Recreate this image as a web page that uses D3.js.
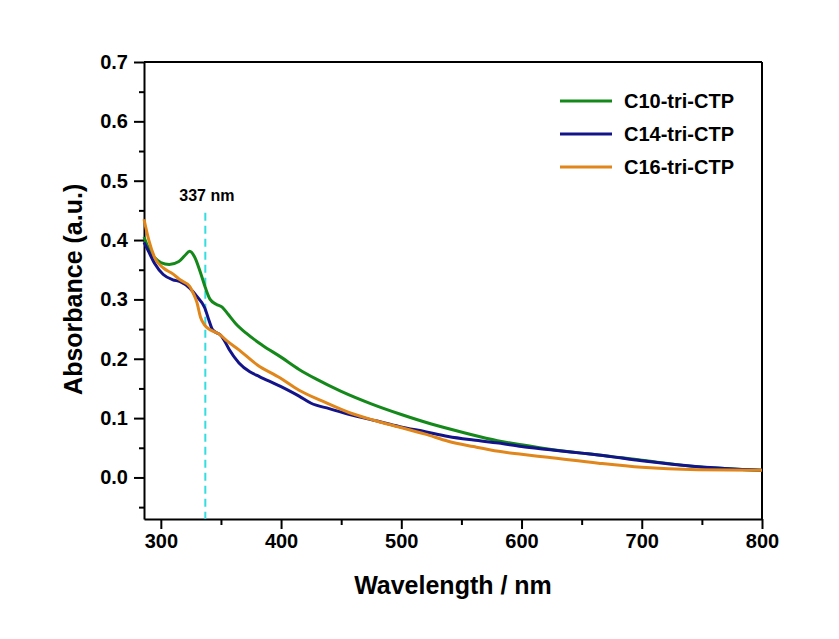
<!DOCTYPE html>
<html>
<head>
<meta charset="utf-8">
<script src="https://cdn.jsdelivr.net/npm/d3@7"></script>
<style>
  body { margin: 0; background: #fff; }
  text { font-family: "Liberation Sans", Arial, sans-serif; font-weight: bold; }
</style>
</head>
<body>
<div id="chart"></div>
<script>
// wavelength (nm) / absorbance pairs
var c10Wave = [286, 290, 295, 300, 307, 315, 320, 324, 328, 333, 337, 341, 346, 351, 356, 362, 371, 385, 399, 415, 429, 450, 475, 500, 525, 553, 580, 600, 622, 650, 664, 700, 747, 800];
var c10Abs  = [0.405, 0.385, 0.370, 0.362, 0.359, 0.364, 0.374, 0.381, 0.372, 0.345, 0.320, 0.300, 0.292, 0.287, 0.275, 0.260, 0.243, 0.222, 0.204, 0.182, 0.166, 0.145, 0.124, 0.106, 0.090, 0.075, 0.062, 0.055, 0.048, 0.041, 0.038, 0.029, 0.018, 0.012];

var c14Wave = [286, 290, 295, 302, 310, 316, 324, 330, 336.5, 340, 343, 347, 349, 353, 357, 365, 374, 382, 400, 415, 425, 440, 457, 480, 498, 520, 539, 560, 581, 600, 622, 650, 664, 700, 747, 800];
var c14Abs  = [0.396, 0.380, 0.360, 0.342, 0.333, 0.330, 0.319, 0.305, 0.286, 0.265, 0.249, 0.243, 0.241, 0.230, 0.215, 0.193, 0.178, 0.170, 0.153, 0.137, 0.125, 0.116, 0.106, 0.095, 0.086, 0.077, 0.069, 0.063, 0.058, 0.052, 0.047, 0.041, 0.038, 0.028, 0.018, 0.012];

var c16Wave = [286, 290, 295, 302, 310, 316, 324, 327, 330, 333, 336, 340, 344, 349, 355, 365, 380, 399, 415, 435, 457, 478, 498, 520, 539, 560, 581, 600, 622, 664, 700, 747, 800];
var c16Abs  = [0.435, 0.400, 0.370, 0.353, 0.343, 0.333, 0.322, 0.310, 0.295, 0.270, 0.258, 0.250, 0.246, 0.241, 0.230, 0.215, 0.190, 0.168, 0.147, 0.128, 0.109, 0.096, 0.085, 0.073, 0.061, 0.052, 0.044, 0.039, 0.034, 0.024, 0.017, 0.013, 0.012];

var seriesNames = ["C10-tri-CTP", "C14-tri-CTP", "C16-tri-CTP"];
var seriesColors = ["#14891a", "#14148a", "#e0861a"];
var xTicks = [300, 400, 500, 600, 700, 800];
var yTicks = [0.0, 0.1, 0.2, 0.3, 0.4, 0.5, 0.6, 0.7];
var markWave = 337;

var W = 839, H = 639;
var margin = { top: 62, right: 77, bottom: 120, left: 144 },
  width = W - margin.left - margin.right,
  height = H - margin.top - margin.bottom;

var svg = d3.select("#chart")
  .append("svg")
  .attr("width", W)
  .attr("height", H)
  .append("g")
  .attr("transform", "translate(" + margin.left + "," + margin.top + ")");

var x = d3.scaleLinear().domain([286, 800]).range([0, width]);
var y = d3.scaleLinear().domain([-0.07, 0.7]).range([height, 0]);

// minor ticks
svg.append("g")
  .attr("transform", "translate(0," + height + ")")
  .call(d3.axisBottom(x).tickValues([350, 450, 550, 650, 750]).tickSize(6).tickFormat(""))
  .call(function (g) { g.select(".domain").remove(); })
  .selectAll("line").attr("stroke-width", 2);
svg.append("g")
  .call(d3.axisLeft(y).tickValues([-0.05, 0.05, 0.15, 0.25, 0.35, 0.45, 0.55, 0.65]).tickSize(5).tickFormat(""))
  .call(function (g) { g.select(".domain").remove(); })
  .selectAll("line").attr("stroke-width", 2);

// main axes
var xAxis = svg.append("g")
  .attr("transform", "translate(0," + height + ")")
  .call(d3.axisBottom(x).tickValues(xTicks).tickSize(10).tickSizeOuter(0).tickPadding(5));
var yAxis = svg.append("g")
  .call(d3.axisLeft(y).tickValues(yTicks).tickSize(10).tickSizeOuter(0).tickPadding(6).tickFormat(d3.format(".1f")));

[xAxis, yAxis].forEach(function (a) {
  a.selectAll("line").attr("stroke-width", 2);
  a.select(".domain").attr("stroke-width", 2);
  a.selectAll("text").attr("font-size", 20).attr("fill", "#000")
    .style("font-family", "'Liberation Sans', Arial, sans-serif").style("font-weight", "bold");
});

// top and right frame
svg.append("line").attr("x1", 0).attr("x2", width).attr("y1", 0).attr("y2", 0)
  .attr("stroke", "#000").attr("stroke-width", 2);
svg.append("line").attr("x1", width).attr("x2", width).attr("y1", 0).attr("y2", height)
  .attr("stroke", "#000").attr("stroke-width", 2);

// marker line at 337 nm
svg.append("line")
  .attr("x1", x(markWave)).attr("x2", x(markWave))
  .attr("y1", y(0.446)).attr("y2", height)
  .attr("stroke", "#33dde0").attr("stroke-width", 2)
  .attr("stroke-dasharray", "8,5");
svg.append("text")
  .attr("x", x(markWave) - 26).attr("y", y(0.465))
  .attr("font-size", 16)
  .text(markWave + " nm");

// curves
var line = d3.line()
  .x(function (d) { return x(d[0]); })
  .y(function (d) { return y(d[1]); })
  .curve(d3.curveMonotoneX);

var allWave = [c10Wave, c14Wave, c16Wave];
var allAbs = [c10Abs, c14Abs, c16Abs];

// draw in order blue, orange, green? keep file order: green, blue, orange
[0, 1, 2].forEach(function (i) {
  var pts = d3.zip(allWave[i], allAbs[i]);
  svg.append("path")
    .datum(pts)
    .attr("fill", "none")
    .attr("stroke", seriesColors[i])
    .attr("stroke-width", 3)
    .attr("d", line);
});

// legend
var legend = svg.append("g").attr("transform", "translate(" + (560 - margin.left) + "," + (101 - margin.top) + ")");
seriesNames.forEach(function (name, i) {
  var gy = i * 33;
  legend.append("line")
    .attr("x1", 0).attr("x2", 52).attr("y1", gy).attr("y2", gy)
    .attr("stroke", seriesColors[i]).attr("stroke-width", 3);
  legend.append("text")
    .attr("x", 64).attr("y", gy + 7)
    .attr("font-size", 20)
    .text(name);
});

// axis titles
svg.append("text")
  .attr("x", width / 2 + 0).attr("y", height + 75)
  .attr("text-anchor", "middle")
  .attr("font-size", 25)
  .text("Wavelength / nm");

svg.append("text")
  .attr("transform", "translate(" + (-62) + "," + (y(0.317)) + ") rotate(-90)")
  .attr("text-anchor", "middle")
  .attr("font-size", 25)
  .text("Absorbance (a.u.)");
</script>
</body>
</html>
